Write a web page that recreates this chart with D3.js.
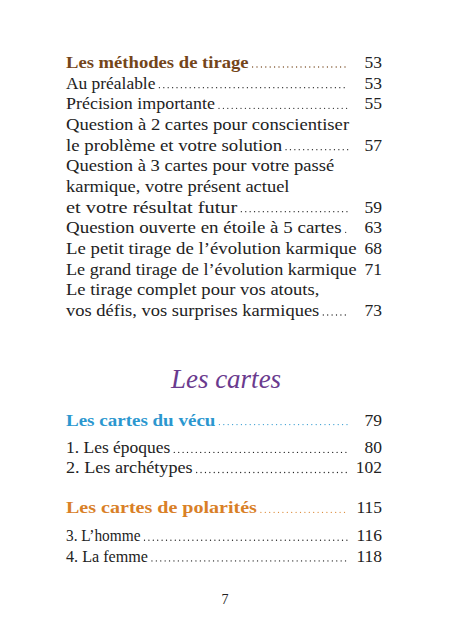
<!DOCTYPE html>
<html><head><meta charset="utf-8">
<script src="https://cdn.jsdelivr.net/npm/d3@7"></script>
<style>body{margin:0;background:#fff}</style>
</head><body><svg></svg>
<script>
let width = 450, height = 630;

// Table of contents lines (page "" means the entry continues on the next line)
let labels = [
    "Les méthodes de tirage", "Au préalable", "Précision importante",
    "Question à 2 cartes pour conscientiser", "le problème et votre solution",
    "Question à 3 cartes pour votre passé", "karmique, votre présent actuel",
    "et votre résultat futur", "Question ouverte en étoile à 5 cartes",
    "Le petit tirage de l’évolution karmique", "Le grand tirage de l’évolution karmique",
    "Le tirage complet pour vos atouts,", "vos défis, vos surprises karmiques",
    "Les cartes du vécu", "1. Les époques", "2. Les archétypes",
    "Les cartes de polarités", "3. L’homme", "4. La femme"
];
let pages = ["53", "53", "55", "", "57", "", "", "59", "63", "68", "71", "", "73",
    "79", "80", "102", "115", "116", "118"];
let kinds = ["h1", "", "", "", "", "", "", "", "", "", "", "", "",
    "h2", "", "", "h3", "", ""];
let rows = [0, 1, 2, 3, 4, 5, 6, 7, 8, 9, 10, 11, 12, 17.3, 18.65, 19.62, 21.55, 22.9, 23.9];
let sectionTitle = "Les cartes";
let pageNumber = "7";

let colors = { h1: "#74451a", h2: "#2b97cf", h3: "#d98027", "": "#222" };

let svg = d3.select("svg").attr("width", width).attr("height", height);
let y = d3.scaleLinear().domain([0, 12]).range([68, 316]);
let left = 66, right = 382, dotsEnd = 348;

let g = svg.append("g").attr("font-family", "'Liberation Serif', serif");

labels.forEach((t, i) => {
    let k = kinds[i];
    let txt = g.append("text")
        .attr("x", left).attr("y", y(rows[i]))
        .attr("font-size", 17.5)
        .attr("font-weight", k ? "bold" : "normal")
        .attr("fill", colors[k])
        .text(t);
    let w = txt.node().getComputedTextLength();
    // stretch to page width like the book's wider face
    let target = t.length * (k ? 8.3 : 7.45);
    txt.attr("textLength", target).attr("lengthAdjust", "spacingAndGlyphs");
    w = target;
    if (pages[i] !== "") {
        for (let x = left + w + 4; x <= dotsEnd; x += 4.4) {
            g.append("circle").attr("cx", x).attr("cy", y(rows[i]) - 1)
                .attr("r", 0.65).attr("fill", colors[k]);
        }
        g.append("text")
            .attr("x", right).attr("y", y(rows[i]))
            .attr("text-anchor", "end")
            .attr("font-size", 17.5)
            .attr("fill", "#222")
            .text(pages[i]);
    }
});

g.append("text").attr("x", 226).attr("y", 388)
    .attr("text-anchor", "middle").attr("font-size", 27)
    .attr("font-style", "italic").attr("fill", "#6a3a8e")
    .text(sectionTitle);

g.append("text").attr("x", 225).attr("y", 604)
    .attr("text-anchor", "middle").attr("font-size", 14).attr("fill", "#222")
    .text(pageNumber);
</script></body></html>
